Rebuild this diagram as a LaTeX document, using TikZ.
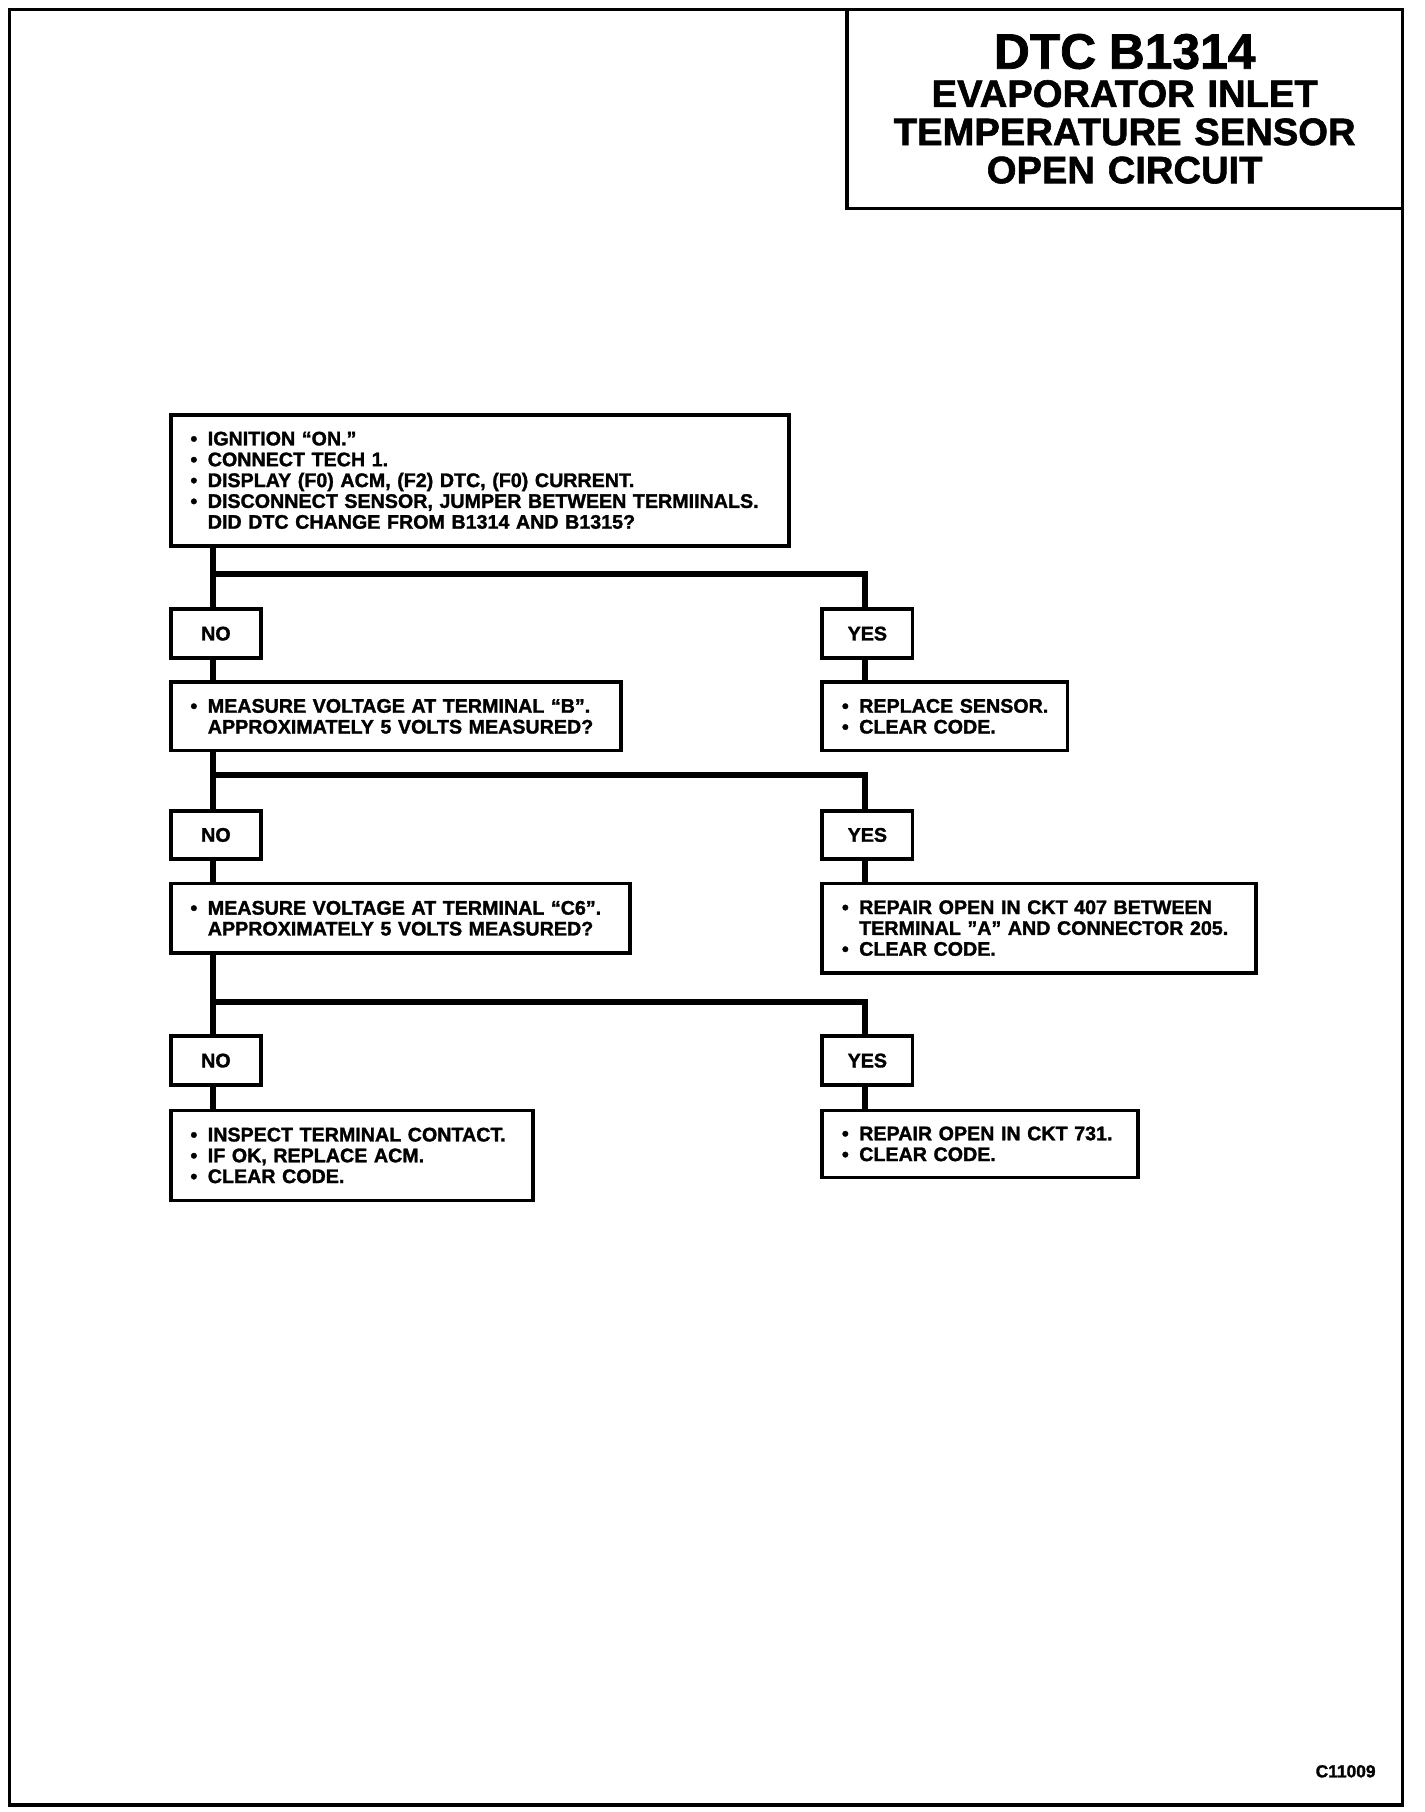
\documentclass[tikz,border=0pt]{standalone}
\usepackage{fontspec}
\setmainfont{Liberation Sans}[BoldFeatures={FakeBold=1.5}]
\newcommand{\bl}[1]{\mbox{\makebox[15pt][l]{\textbullet}#1}}
\newcommand{\cl}[1]{\mbox{\hspace*{15pt}#1}}
\tikzset{
  fbox/.style={draw, line width=3.2pt, rectangle, anchor=north west, inner xsep=17pt, inner ysep=0pt,
    font=\bfseries\fontsize{17}{18}\selectfont, align=left},
  ans/.style={draw, line width=3.2pt, rectangle, anchor=north west, inner sep=0pt,
    minimum width=78pt, minimum height=42pt, font=\bfseries\fontsize{17}{18}\selectfont},
  conn/.style={line width=4.8pt},
}
\begin{document}
\begin{tikzpicture}[x=1pt,y=-1pt]
\useasboundingbox (0,0) rectangle (1231,1566);
\draw[line width=3pt] (8,8) rectangle (1212,1560);
\node[draw, line width=3pt, outer sep=0pt, anchor=north west, minimum width=480pt, minimum height=172pt, inner sep=0pt,
  text width=480pt, align=center, font=\bfseries\fontsize{33}{33}\selectfont] (title) at (732,8)
  {{\fontsize{43}{43}\selectfont DTC B1314\par}EVAPORATOR INLET\\TEMPERATURE SENSOR\\OPEN CIRCUIT};

\node[fbox, text width=500pt, minimum height=113pt] (b1) at (146,357)
  {\bl{IGNITION “ON.”}\\\bl{CONNECT TECH 1.}\\\bl{DISPLAY (F0) ACM, (F2) DTC, (F0) CURRENT.}\\\bl{DISCONNECT SENSOR, JUMPER BETWEEN TERMIINALS.}\\\cl{DID DTC CHANGE FROM B1314 AND B1315?}};

\node[ans] (no1) at (146,525) {NO};
\node[ans] (yes1) at (709,525) {YES};
\node[fbox, text width=355pt, minimum height=59pt] (b2) at (146,588)
  {\bl{MEASURE VOLTAGE AT TERMINAL “B”.}\\\cl{APPROXIMATELY 5 VOLTS MEASURED?}};
\node[fbox, text width=178pt, minimum height=59pt] (r1) at (709,588)
  {\bl{REPLACE SENSOR.}\\\bl{CLEAR CODE.}};

\node[ans] (no2) at (146,699) {NO};
\node[ans] (yes2) at (709,699) {YES};
\node[fbox, text width=363pt, minimum height=60pt] (b3) at (146,762)
  {\bl{MEASURE VOLTAGE AT TERMINAL “C6”.}\\\cl{APPROXIMATELY 5 VOLTS MEASURED?}};
\node[fbox, text width=341pt, minimum height=77pt] (r2) at (709,762)
  {\bl{REPAIR OPEN IN CKT 407 BETWEEN}\\\cl{TERMINAL "A" AND CONNECTOR 205.}\\\bl{CLEAR CODE.}};

\node[ans] (no3) at (146,894) {NO};
\node[ans] (yes3) at (709,894) {YES};
\node[fbox, text width=279pt, minimum height=78pt] (b4) at (146,958)
  {\bl{INSPECT TERMINAL CONTACT.}\\\bl{IF OK, REPLACE ACM.}\\\bl{CLEAR CODE.}};
\node[fbox, text width=239pt, minimum height=58pt] (r3) at (709,958)
  {\bl{REPAIR OPEN IN CKT 731.}\\\bl{CLEAR CODE.}};

\node[anchor=base east, inner sep=0pt, font=\bfseries\fontsize{15}{15}\selectfont] (code) at (1189,1536) {C11009};

\coordinate (j1) at (184,496);
\coordinate (j2) at (184,670);
\coordinate (j3) at (184,866);

\draw[conn] (b1.south -| j1) -- (no1.north -| j1);
\draw[conn] (j1) -| ([xshift=-2pt]yes1.north);
\draw[conn] (no1.south -| j1) -- (b2.north -| j1);
\draw[conn] ([xshift=-2pt]yes1.south) -- ([xshift=-2pt]yes1.south |- r1.north);
\draw[conn] (b2.south -| j2) -- (no2.north -| j2);
\draw[conn] (j2) -| ([xshift=-2pt]yes2.north);
\draw[conn] (no2.south -| j2) -- (b3.north -| j2);
\draw[conn] ([xshift=-2pt]yes2.south) -- ([xshift=-2pt]yes2.south |- r2.north);
\draw[conn] (b3.south -| j3) -- (no3.north -| j3);
\draw[conn] (j3) -| ([xshift=-2pt]yes3.north);
\draw[conn] (no3.south -| j3) -- (b4.north -| j3);
\draw[conn] ([xshift=-2pt]yes3.south) -- ([xshift=-2pt]yes3.south |- r3.north);
\end{tikzpicture}
\end{document}
